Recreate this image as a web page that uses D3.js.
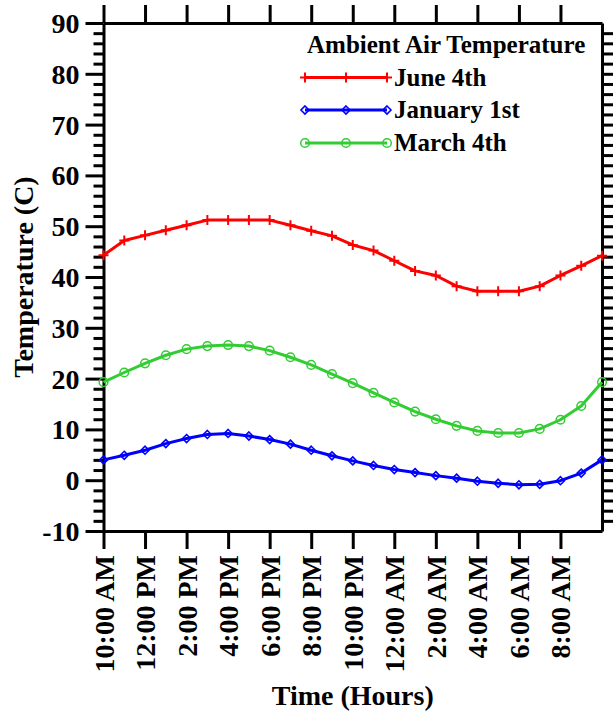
<!DOCTYPE html>
<html>
<head>
<meta charset="utf-8">
<script src="https://cdn.jsdelivr.net/npm/d3@7"></script>
<style>
  html, body { margin: 0; padding: 0; background: #fff; }
  svg { display: block; }
  text { font-family: "Liberation Serif", "Times New Roman", serif; font-weight: bold; fill: #000; }
</style>
</head>
<body>
<div id="chart"></div>
<script>
// Hours after 10:00 AM, sampled hourly over one day
const hours = d3.range(0, 25);

// Ambient air temperature (°C) for each sample
const june4 = [44.3, 47.2, 48.2, 49.2, 50.2, 51.2, 51.2, 51.2, 51.2, 50.2, 49.1, 48.1, 46.3, 45.2, 43.2,
               41.2, 40.3, 38.2, 37.2, 37.2, 37.2, 38.2, 40.3, 42.2, 44.2];
const january1 = [4.0, 4.9, 5.9, 7.2, 8.2, 9.0, 9.2, 8.7, 8.0, 7.1, 5.9, 4.8, 3.8, 2.9, 2.1,
                  1.5, 0.9, 0.4, -0.2, -0.6, -0.9, -0.8, -0.1, 1.4, 4.0];
const march4 = [19.3, 21.2, 23.0, 24.6, 25.8, 26.4, 26.6, 26.4, 25.5, 24.2, 22.7, 20.9, 19.1, 17.2, 15.3,
                13.5, 12.0, 10.7, 9.7, 9.3, 9.3, 10.1, 11.9, 14.6, 19.3];

// Axis tick labels
const timeTicks = [0, 2, 4, 6, 8, 10, 12, 14, 16, 18, 20, 22];
const timeLabels = ["10:00 AM", "12:00 PM", "2:00 PM", "4:00 PM", "6:00 PM", "8:00 PM",
                    "10:00 PM", "12:00 AM", "2:00 AM", "4:00 AM", "6:00 AM", "8:00 AM"];
const tempTicks = [-10, 0, 10, 20, 30, 40, 50, 60, 70, 80, 90];

const seriesNames = ["June 4th", "January 1st", "March 4th"];
const seriesValues = [june4, january1, march4];

const W = 613, H = 717;
const plotLeft = 103.5, plotRight = 602, plotTop = 23, plotBottom = 531;

const svg = d3.select("#chart").append("svg")
  .attr("width", W).attr("height", H)
  .attr("viewBox", `0 0 ${W} ${H}`);

svg.append("rect").attr("width", W).attr("height", H).attr("fill", "#fff");

const x = d3.scaleLinear().domain([0, 24]).range([plotLeft, plotRight]);
const y = d3.scaleLinear().domain([-10, 90]).range([plotBottom, plotTop]);

const minorTemps = d3.range(-8, 90, 2).filter(v => v % 10 !== 0);
const rightTemps = d3.range(-8, 90, 2);

function styleAxis(g) {
  g.selectAll("path.domain").attr("stroke", "#000").attr("stroke-width", 3);
  g.selectAll(".tick line").attr("stroke", "#000").attr("stroke-width", 3);
}

// Left axis: major ticks with labels, minor ticks every 2 °C
const gLeft = svg.append("g").attr("transform", `translate(${plotLeft},0)`)
  .call(d3.axisLeft(y).tickValues(tempTicks).tickSize(18).tickSizeOuter(0).tickPadding(6)
    .tickFormat(d => String(d)))
  .call(styleAxis);
gLeft.selectAll("text").attr("font-size", 28).attr("dy", "0.34em");
svg.append("g").attr("transform", `translate(${plotLeft},0)`)
  .call(d3.axisLeft(y).tickValues(minorTemps).tickSize(10).tickSizeOuter(0).tickFormat(""))
  .call(styleAxis)
  .call(g => g.select("path.domain").remove());

// Right axis: ticks only
svg.append("g").attr("transform", `translate(${plotRight},0)`)
  .call(d3.axisRight(y).tickValues(rightTemps).tickSize(12).tickSizeOuter(0).tickFormat(""))
  .call(styleAxis);

// Top axis: ticks only
svg.append("g").attr("transform", `translate(0,${plotTop})`)
  .call(d3.axisTop(x).tickValues(timeTicks).tickSize(18).tickSizeOuter(0).tickFormat(""))
  .call(styleAxis);

// Bottom axis with rotated time labels
const gBottom = svg.append("g").attr("transform", `translate(0,${plotBottom})`)
  .call(d3.axisBottom(x).tickValues(timeTicks).tickSize(18).tickSizeOuter(0)
    .tickFormat((d, i) => timeLabels[i]))
  .call(styleAxis);
gBottom.selectAll("text")
  .attr("font-size", 28)
  .attr("transform", "rotate(-90)")
  .attr("x", -24).attr("y", 0).attr("dy", "0.34em")
  .style("text-anchor", "end");

// Axis titles
svg.append("text")
  .attr("transform", `translate(33,${(plotTop + plotBottom) / 2}) rotate(-90)`)
  .attr("text-anchor", "middle").attr("font-size", 28)
  .text("Temperature (C)");
svg.append("text")
  .attr("x", (plotLeft + plotRight) / 2).attr("y", 705)
  .attr("text-anchor", "middle").attr("font-size", 28)
  .text("Time (Hours)");

// Series styles and markers
const colors = ["#ff0000", "#0000ff", "#33cc33"];

function drawMarker(g, kind, color) {
  if (kind === 0) {
    g.append("path").attr("d", "M-5,0H5M0,-5V5")
      .attr("stroke", color).attr("stroke-width", 2).attr("fill", "none");
  } else if (kind === 1) {
    g.append("path").attr("d", "M0,-4L4,0L0,4L-4,0Z")
      .attr("stroke", color).attr("stroke-width", 1.6).attr("fill", "none");
  } else {
    g.append("circle").attr("r", 4.3)
      .attr("stroke", color).attr("stroke-width", 1.5).attr("fill", "none");
  }
}

const line = d3.line().x((d, i) => x(hours[i])).y(d => y(d));

seriesValues.forEach((vals, k) => {
  const g = svg.append("g");
  g.append("path").datum(vals)
    .attr("d", line)
    .attr("fill", "none").attr("stroke", colors[k]).attr("stroke-width", 3)
    .attr("stroke-linejoin", "round");
  vals.forEach((v, i) => {
    const m = g.append("g").attr("transform", `translate(${x(hours[i])},${y(v)})`);
    drawMarker(m, k, colors[k]);
  });
});

// Legend
const legend = svg.append("g");
legend.append("text").attr("x", 307).attr("y", 53).attr("font-size", 25)
  .text("Ambient Air Temperature");
const rowY = [77.5, 110, 143];
seriesNames.forEach((name, k) => {
  const yy = rowY[k];
  legend.append("line").attr("x1", 305).attr("x2", 387).attr("y1", yy).attr("y2", yy)
    .attr("stroke", colors[k]).attr("stroke-width", 3);
  [305, 346, 387].forEach(px => {
    const m = legend.append("g").attr("transform", `translate(${px},${yy})`);
    drawMarker(m, k, colors[k]);
  });
  legend.append("text").attr("x", 394).attr("y", yy + 8.3).attr("font-size", 25).text(name);
});
</script>
</body>
</html>
